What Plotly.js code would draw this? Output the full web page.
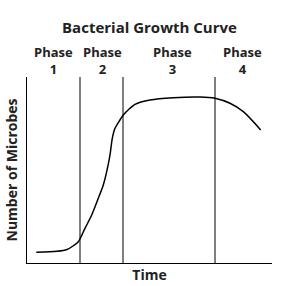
<!DOCTYPE html>
<html><head><meta charset="utf-8">
<script src="https://cdn.plot.ly/plotly-3.0.1.min.js"></script>
<style>html,body{margin:0;padding:0;background:#fff}</style>
</head><body><div id="chart" style="width:282px;height:286px"></div>
<script>
const time = [9.3, 30, 40, 46, 51.3, 58, 64.7, 71.3, 76.3, 79.7, 83, 85.3, 88, 93, 96.3, 103, 108, 123, 146.3, 173, 188, 203, 216.3, 233.7];
const microbes = [10.7, 11.7, 13.5, 17, 21.3, 34.7, 48, 64.7, 78, 91.3, 108, 124.7, 134.7, 143, 148, 154.7, 158.7, 163, 165.3, 166, 164.7, 159.7, 151.3, 133];
const phaseBounds = [53, 96, 188];
const phaseLabels = ['Phase<br>1', 'Phase<br>2', 'Phase<br>3', 'Phase<br>4'];
const phaseCenters = [26, 75, 145, 215];

const F = '"Open Sans", "Noto Sans", sans-serif';
const shapes = phaseBounds.map(b => ({type:'line', xref:'x', yref:'paper', x0:b, x1:b, y0:0, y1:1, line:{color:'#000', width:1}}));
const annotations = phaseLabels.map((t,i) => ({text:'<b>'+t+'</b>', x:phaseCenters[i], xref:'x', y:1, yref:'paper', yanchor:'bottom', yshift:-3, showarrow:false, font:{family:F, size:13, color:'#222'}}));

Plotly.newPlot('chart', [{x: time, y: microbes, mode:'lines', line:{color:'#000', width:1.5, shape:'spline', smoothing:0.8}, hoverinfo:'none'}], {
  width:282, height:286,
  margin:{l:27, r:10, t:77, b:23},
  paper_bgcolor:'#fff', plot_bgcolor:'#fff',
  showlegend:false,
  title:{text:'<b>Bacterial Growth Curve</b>', x:0.53, xanchor:'center', y:0.903, yanchor:'middle', font:{family:F, size:15, color:'#222'}},
  xaxis:{range:[0,245], showline:true, linecolor:'#000', linewidth:1, showgrid:false, zeroline:false, showticklabels:false, ticks:'', fixedrange:true,
    title:{text:'<b>Time</b>', standoff:7, font:{family:F, size:14, color:'#222'}}},
  yaxis:{range:[0,186], showline:true, linecolor:'#000', linewidth:1, showgrid:false, zeroline:false, showticklabels:false, ticks:'', fixedrange:true,
    title:{text:'<b>Number of Microbes</b>', standoff:5, font:{family:F, size:14, color:'#222'}}},
  shapes: shapes,
  annotations: annotations
}, {displayModeBar:false, staticPlot:true});
</script></body></html>
